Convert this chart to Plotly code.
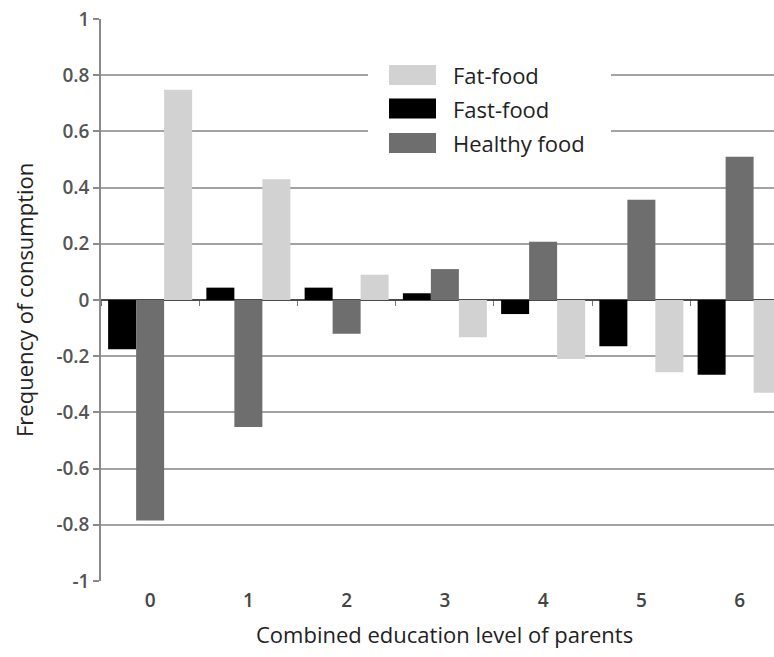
import plotly.graph_objects as go

categories = [0, 1, 2, 3, 4, 5, 6]
category_labels = ["0", "1", "2", "3", "4", "5", "6"]
fast_food = [-0.175, 0.044, 0.044, 0.024, -0.05, -0.165, -0.266]
healthy_food = [-0.785, -0.452, -0.12, 0.11, 0.207, 0.357, 0.51]
fat_food = [0.748, 0.43, 0.09, -0.133, -0.21, -0.257, -0.33]
y_ticks = [-1, -0.8, -0.6, -0.4, -0.2, 0, 0.2, 0.4, 0.6, 0.8, 1]
y_tick_labels = ["-1", "-0.8", "-0.6", "-0.4", "-0.2", "0", "0.2", "0.4", "0.6", "0.8", "1"]
x_title = "Combined education level of parents"
y_title = "Frequency of consumption"

series_names = ["Fast-food", "Healthy food", "Fat-food"]
series_values = [fast_food, healthy_food, fat_food]
series_colors = ["#000000", "#6e6e6e", "#d2d2d2"]

FONT = "Open Sans"
L, T, R_EDGE, B_EDGE = 101, 19, 774, 581

fig = go.Figure()
for name, vals, col in zip(series_names, series_values, series_colors):
    fig.add_trace(go.Bar(x=categories, y=vals, name=name, marker=dict(color=col, line=dict(width=0)),
                         showlegend=False))
# invisible helper trace so the zero-line tick axis (x2) is rendered
fig.add_trace(go.Scatter(x=categories, y=fast_food, xaxis="x2", mode="markers",
                         marker=dict(opacity=0), showlegend=False, hoverinfo="skip"))

x_range = [-0.5, 6.35]
fig.update_layout(
    width=774, height=657,
    margin=dict(l=L, r=774 - R_EDGE, t=T, b=657 - B_EDGE, autoexpand=False),
    paper_bgcolor="white", plot_bgcolor="white",
    barmode="group", bargap=0.145, bargroupgap=0,
    font=dict(family=FONT, color="#333333"),
    xaxis=dict(range=x_range, tickmode="array", tickvals=categories, ticktext=category_labels,
               showgrid=False, zeroline=False, showline=False, ticks="", automargin=False,
               tickfont=dict(size=19, color="#444444", weight=600), ticklabelstandoff=6),
    xaxis2=dict(range=x_range, overlaying="x", anchor="free", position=0.5, side="bottom",
                tickmode="array", tickvals=[c - 0.5 for c in categories] + [6.5],
                showticklabels=False, ticks="outside", ticklen=5, tickcolor="#777777", tickwidth=1.2,
                showgrid=False, zeroline=False, showline=False, automargin=False),
    yaxis=dict(range=[-1, 1], tickmode="array", tickvals=y_ticks, ticktext=y_tick_labels,
               showgrid=True, gridcolor="#a3a3a3", gridwidth=1.6, automargin=False,
               zeroline=True, zerolinecolor="#4a4a4a", zerolinewidth=1.8,
               showline=True, linecolor="#8a8a8a", linewidth=1.5,
               ticks="outside", ticklen=6, tickcolor="#8a8a8a", tickwidth=1.5,
               tickfont=dict(size=19, color="#555555", weight=600)),
)

def px_to_paper_x(px):
    return (px - L) / float(R_EDGE - L)

def px_to_paper_y(py):
    return (B_EDGE - py) / float(B_EDGE - T)

annotations = [
    dict(xref="x", yref="paper", x=categories[3], y=px_to_paper_y(634), text=x_title, showarrow=False,
         xanchor="center", yanchor="middle", font=dict(size=22, color="#222222", family=FONT)),
    dict(xref="paper", yref="paper", x=px_to_paper_x(24), y=px_to_paper_y(300), text=y_title, showarrow=False,
         textangle=-90, xanchor="center", yanchor="middle", font=dict(size=22, color="#222222", family=FONT)),
]

# custom legend (white box covering gridlines, wide swatches)
shapes = [dict(type="rect", xref="paper", yref="paper",
               x0=px_to_paper_x(368), x1=px_to_paper_x(611),
               y0=px_to_paper_y(168), y1=px_to_paper_y(46),
               fillcolor="white", line=dict(width=0), layer="above")]
legend_order = ["Fat-food", "Fast-food", "Healthy food"]
row_centers = [75, 108.5, 143]
for lname, cy in zip(legend_order, row_centers):
    col = series_colors[series_names.index(lname)]
    shapes.append(dict(type="rect", xref="paper", yref="paper",
                       x0=px_to_paper_x(389), x1=px_to_paper_x(436),
                       y0=px_to_paper_y(cy + 10), y1=px_to_paper_y(cy - 10),
                       fillcolor=col, line=dict(width=0), layer="above"))
    annotations.append(dict(xref="paper", yref="paper", x=px_to_paper_x(451), y=px_to_paper_y(cy),
                            text=lname, showarrow=False, xanchor="left", yanchor="middle",
                            font=dict(size=22, color="#222222", family=FONT)))
fig.update_layout(shapes=shapes, annotations=annotations)

fig.write_html("out.html", config={"displayModeBar": False},
               post_script="document.body.style.margin='0';")
